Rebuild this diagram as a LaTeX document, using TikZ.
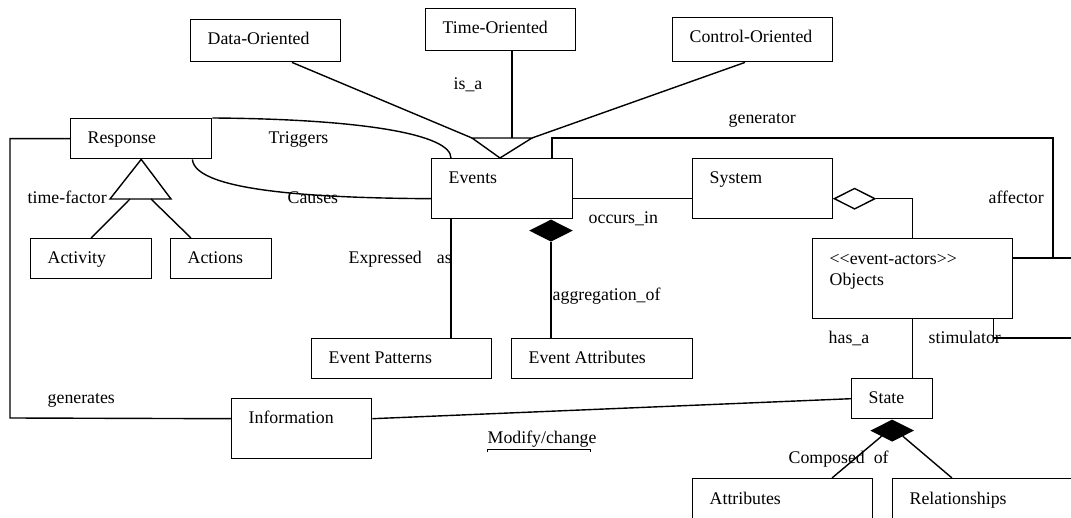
\documentclass[tikz,border=0pt]{standalone}
\usepackage{fontspec}
\setmainfont{Liberation Serif}
\usetikzlibrary{shapes.geometric}

\tikzset{
  cls/.style={draw, rectangle, anchor=north west, inner sep=0pt},
  txt/.style={anchor=base west, inner sep=0pt},
  agg/.style={diamond, draw, inner sep=0pt, minimum width=41, minimum height=21},
}

\begin{document}
\begin{tikzpicture}[x=1pt, y=-1pt, line width=1.4pt, font=\fontsize{17.8}{21}\selectfont]
    \useasboundingbox (0,0) rectangle (1071,518);
    \clip (0,0) rectangle (1071,518);

    % classes
    \foreach \n/\x/\y/\w/\h/\t in {dataor/190/19/150/42/Data-Oriented,
        timeor/425/8/150/42/Time-Oriented, ctrlor/672/17/160/44/Control-Oriented,
        response/70/118/141/40/Response, activity/30/238/121/40/Activity,
        actions/170/238/101/40/Actions, events/431/158/141/60/Events,
        system/692/158/140/60/System, patterns/311/338/180/40/Event Patterns,
        evattr/511/338/181/40/Event Attributes, info/231/398/140/60/Information,
        state/851/378/81/40/State, attr/692/478/180/70/Attributes,
        rel/892/478/220/70/Relationships} {
        \node[cls, minimum width=\w, minimum height=\h] (\n) at (\x,\y) {};
        \node[txt] at (\x+17,\y+26) {\t};
    }
    \node[cls, minimum width=200, minimum height=80] (objects) at (812,238) {};
    \node[txt] at (829,265) {<\kern0pt<event-actors>\kern0pt>};
    \node[txt] at (829,286) {Objects};

    % is_a
    \coordinate (isaL) at (472,138);
    \coordinate (isaR) at (532,138);
    \draw (isaL) -- (isaR) -- ([xshift=69pt]events.north west) -- cycle;
    \draw ([xshift=102pt]dataor.south west) -- (isaL);
    \draw ([xshift=87pt]timeor.south west) -- ([xshift=87pt]timeor.south west |- isaL);
    \draw ([xshift=73pt]ctrlor.south west) -- (isaR);
    \node[txt] at (453,90) {is\_a};

    % Response
    \draw (response.south) -- (171,199) -- (110,199) -- cycle;
    \draw (130,199) -- (activity.north);
    \draw (151,199) -- ([xshift=21pt]actions.north west);
    \node[txt] at (27,204) {time-factor};
    \draw (response.north east) .. controls (360,119) and (451,134) .. ([xshift=20pt]events.north west);
    \node[txt] at (268,144) {Triggers};
    \draw ([xshift=-20pt]response.south east) .. controls (195,193) and (330,198) .. ([yshift=-10pt]events.west);
    \node[txt] at (287,204) {Causes};
    \coordinate (genL) at (10,418);
    \draw (response.west) -| (genL) -- ([yshift=10pt]info.west);
    \node[txt] at (47,404) {generates};

    % Events
    \draw ([xshift=20pt]events.south west) -- ([xshift=20pt]events.south west |- patterns.north);
    \node[txt] at (348,264) {Expressed\hspace{15pt}as};
    \node[agg, fill, anchor=north] (evdia) at ([xshift=120pt]events.south west) {};
    \draw (evdia.south) -- (evdia.south |- evattr.north);
    \node[txt] at (552,301) {aggregation\_of};
    \draw ([yshift=-10pt]events.east) -- ([yshift=-10pt]system.west);
    \node[txt] at (588,224) {occurs\_in};

    % generator / affector / stimulator
    \coordinate (genTop) at (1053,138);
    \coordinate (affR) at (1053,258);
    \coordinate (edgeA) at (1090,258);
    \coordinate (edgeB) at (1090,338);
    \draw ([xshift=121pt]events.north west) |- (genTop) -- (affR);
    \node[txt] at (728,124) {generator};
    \draw ([yshift=-20pt]objects.north east) -- (edgeA);
    \node[txt] at (988,204) {affector};
    \draw ([xshift=-20pt]objects.south east) |- (edgeB);
    \node[txt] at (928,344) {stimulator};

    % System / Objects / State
    \node[agg, fill=white, anchor=west] (sysdia) at ([yshift=-10pt]system.east) {};
    \draw (sysdia.east) -| (objects.north);
    \draw (objects.south) -- (objects.south |- state.north);
    \node[txt] at (828,344) {has\_a};
    \draw ([yshift=10pt]info.east) -- (state.west);
    \node[txt] at (487,443) {Modify/change};
    \draw[line width=0.7pt] (487,452) |- (590,449) -- (590,452);
    \node[agg, fill, anchor=north] (stdia) at (state.south) {};
    \draw (stdia.south west) -- ([xshift=140pt]attr.north west);
    \draw (stdia.south east) -- ([xshift=60pt]rel.north west);
    \node[txt] at (788,463) {Composed\hspace{9pt}of};
\end{tikzpicture}
\end{document}
